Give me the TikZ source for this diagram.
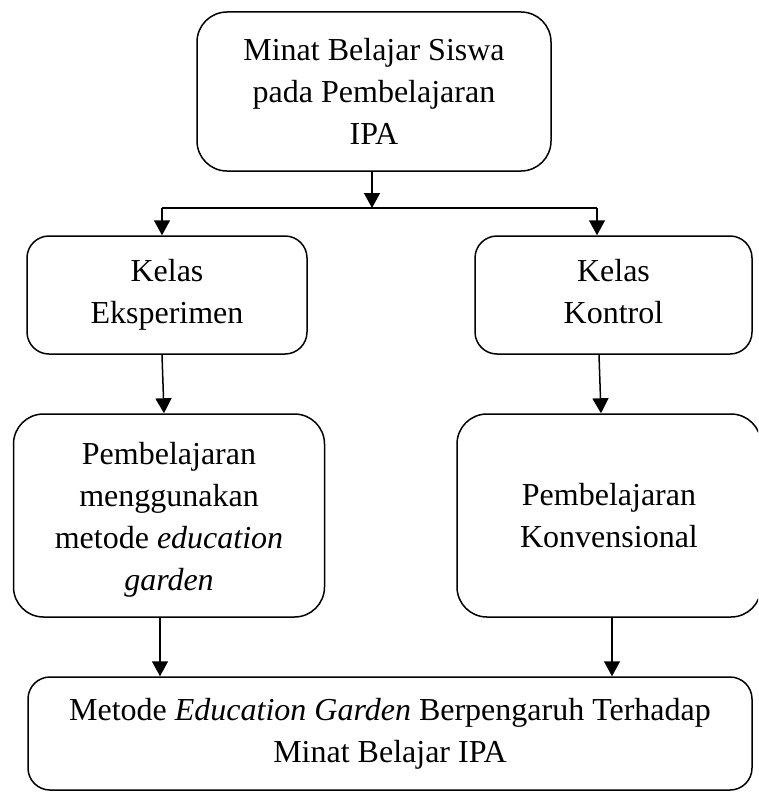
\documentclass[tikz,border=0pt]{standalone}
\usepackage{fontspec}
\setmainfont{Liberation Serif}
\usetikzlibrary{arrows.meta, positioning}

\begin{document}
\begin{tikzpicture}[
    x=1pt, y=-1pt,
    flowBox/.style={draw, line width=1.5pt, rounded corners=#1, align=center, inner sep=0pt,
        font=\fontsize{32}{42}\selectfont}, % 圆角文本框
    flowBox/.default=22pt,
    flowLine/.style={line width=1.5pt}, % 普通连线
    flowArrow/.style={flowLine, -{Triangle[length=15pt, width=16pt]}}, % 带实心箭头的连线
]
    \clip (0,0) rectangle (758,792);

    % 1. 各个方框
    \node[flowBox=30pt, minimum width=354pt, minimum height=159pt] (minat) at (374,91.5)
        {Minat Belajar Siswa\\pada Pembelajaran\\IPA};
    \node[flowBox, minimum width=280pt, minimum height=118pt] (kelasE) at (167,295)
        {Kelas\\Eksperimen};
    \node[flowBox, minimum width=277pt, minimum height=118pt] (kelasK) at (613.5,295)
        {Kelas\\Kontrol\vphantom{p}};
    \node[flowBox=30pt, minimum width=311pt, minimum height=203pt] (metodeE) at (169,515.5)
        {\rule{0pt}{31pt}Pembelajaran\\menggunakan\\metode \textit{education}\\\textit{garden}};
    \node[flowBox=30pt, minimum width=304pt, minimum height=203pt] (konv) at (609,515.5)
        {Pembelajaran\\Konvensional};
    \node[flowBox, minimum width=724pt, minimum height=113pt] (hasil) at (390,733.5)
        {Metode \textit{Education Garden} Berpengaruh Terhadap\\Minat Belajar IPA};

    % 2. 分支线
    \coordinate (pusat) at (372,208);
    \coordinate (cabangKiri) at (162,208);
    \coordinate (cabangKanan) at (597,208);
    \draw[flowArrow] (minat.south -| pusat) -- (pusat);
    \draw[flowLine] (cabangKiri) -- (cabangKanan);
    \draw[flowArrow] (cabangKiri) -- (cabangKiri |- kelasE.north);
    \draw[flowArrow] (cabangKanan) -- (cabangKanan |- kelasK.north);

    % 3. 纵向箭头
    \draw[flowArrow] ([xshift=-5pt]kelasE.south) -- ([xshift=-5pt]metodeE.north);
    \draw[flowArrow] ([xshift=-14.5pt]kelasK.south) -- ([xshift=-8pt]konv.north);
    \coordinate (turunKiri) at ([xshift=-9pt]metodeE.south);
    \coordinate (turunKanan) at ([xshift=3pt]konv.south);
    \draw[flowArrow] (turunKiri) -- (turunKiri |- hasil.north);
    \draw[flowArrow] (turunKanan) -- (turunKanan |- hasil.north);
\end{tikzpicture}
\end{document}
